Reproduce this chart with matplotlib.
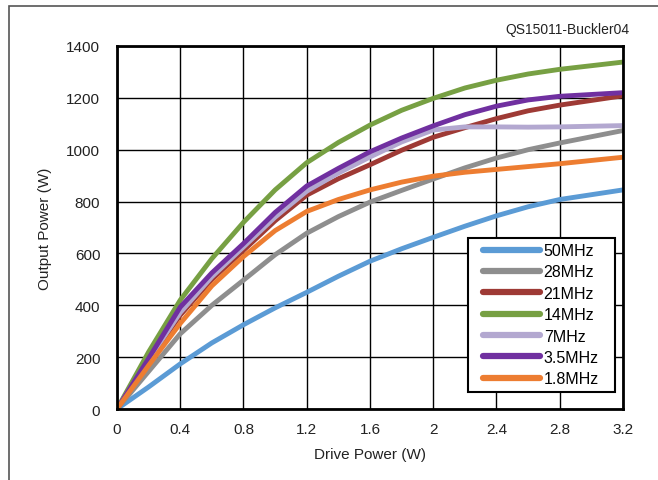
import matplotlib.pyplot as plt
import matplotlib.patches as patches

plt.rcParams['font.family'] = ['Liberation Sans', 'DejaVu Sans']

# Drive power (W) and output power (W) per band
drive = [0, 0.2, 0.4, 0.6, 0.8, 1.0, 1.2, 1.4, 1.6, 1.8, 2.0, 2.2, 2.4, 2.6, 2.8, 3.2]
p_50 = [0, 85, 174, 255, 325, 390, 450, 512, 570, 618, 662, 705, 745, 780, 808, 845]
p_28 = [0, 145, 290, 400, 497, 595, 678, 742, 798, 843, 887, 930, 968, 1000, 1026, 1074]
p_21 = [0, 185, 362, 500, 612, 726, 825, 888, 942, 998, 1048, 1085, 1120, 1150, 1172, 1208]
p_14 = [0, 220, 420, 580, 720, 845, 950, 1028, 1095, 1152, 1198, 1238, 1268, 1292, 1310, 1338]
p_7 = [0, 190, 372, 510, 625, 740, 840, 910, 972, 1030, 1076, 1088, 1088, 1087, 1088, 1093]
p_35 = [0, 195, 393, 525, 638, 758, 860, 928, 992, 1045, 1092, 1135, 1168, 1192, 1206, 1220]
p_18 = [0, 168, 330, 475, 588, 688, 762, 808, 845, 875, 898, 913, 924, 935, 946, 971]

bands = ['50MHz', '28MHz', '21MHz', '14MHz', '7MHz', '3.5MHz', '1.8MHz']
series = [p_50, p_28, p_21, p_14, p_7, p_35, p_18]
colors = ['#5B9BD5', '#8E8E8E', '#9E3A35', '#77A043', '#B3A8D0', '#7030A0', '#ED7D31']

fig = plt.figure(figsize=(6.58, 4.81), dpi=100)
ax = fig.add_axes([0.1778, 0.1476, 0.7690, 0.7547])

# cadre gris autour de la figure (gauche et haut seulement)
fig.patches.append(patches.Rectangle((9 / 658, -0.1), 1.2, 1 - 7 / 481 + 0.1,
                                     transform=fig.transFigure, fill=False,
                                     edgecolor='#555555', linewidth=1.2))

for nom, vals, cor in zip(bands, series, colors):
    ax.plot(drive, vals, color=cor, linewidth=3.5, label=nom,
            solid_capstyle='round', solid_joinstyle='round')

ax.set_xlim(0, 3.2)
ax.set_ylim(0, 1400)
ax.set_xticks([0, 0.4, 0.8, 1.2, 1.6, 2, 2.4, 2.8, 3.2])
ax.set_xticklabels(['0', '0.4', '0.8', '1.2', '1.6', '2', '2.4', '2.8', '3.2'])
ax.set_yticks(range(0, 1401, 200))
ax.tick_params(length=0, labelsize=11, colors='#222222')
ax.tick_params(axis='x', pad=9)
ax.tick_params(axis='y', pad=12)
ax.grid(True, color='black', linewidth=1.0)
ax.set_axisbelow(True)
for s in ax.spines.values():
    s.set_linewidth(2.0)
    s.set_color('black')

ax.set_xlabel('Drive Power (W)', fontsize=11, color='#222222', labelpad=8)
ax.set_ylabel('Output Power (W)', fontsize=11, color='#222222', labelpad=10)
fig.text(630 / 658, 1 - 30 / 481, 'QS15011-Buckler04', ha='right', va='center',
         fontsize=10, color='#222222')

# cadre de la légende dessiné à part pour caler sa taille
ax.add_patch(patches.Rectangle((0.6937, 0.0468), 0.2905, 0.424, transform=ax.transAxes,
                               facecolor='white', edgecolor='black', linewidth=1.5,
                               zorder=4))
leg = ax.legend(loc='upper left', bbox_to_anchor=(0.7233, 0.457), fontsize=11.5,
                handlelength=3.6, handletextpad=0.2, labelspacing=0.4,
                frameon=False, borderpad=0, borderaxespad=0)
leg.set_zorder(5)
for h in leg.get_lines():
    h.set_linewidth(4.5)

fig.savefig('out.png', dpi=100)
